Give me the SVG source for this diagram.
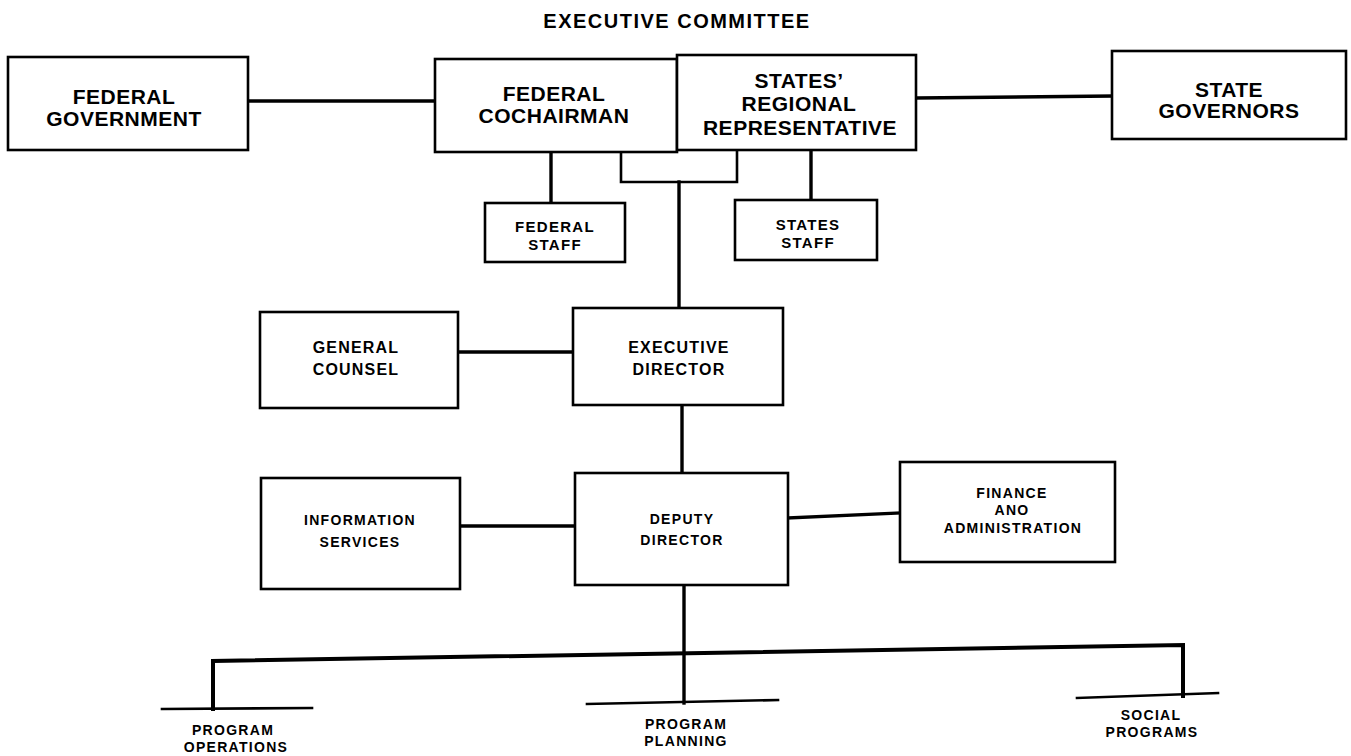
<svg xmlns="http://www.w3.org/2000/svg" width="1351" height="756" viewBox="0 0 1351 756">
<style>
.box{fill:#fff;stroke:#000;stroke-width:2.6}
.ln{fill:none;stroke:#000;stroke-width:3.4;stroke-linecap:square}
.t{font-family:"Liberation Sans",Arial,sans-serif;font-weight:bold;fill:#000;text-anchor:middle}
.L{font-size:21px;letter-spacing:0.5px}
.M{font-size:16px;letter-spacing:1.2px}
.S{font-size:15px;letter-spacing:1.3px}
.X{font-size:14px;letter-spacing:1.3px}
</style>
<rect width="1351" height="756" fill="#fff"/>
<text class="t" x="677" y="28" style="font-size:20px;letter-spacing:1.5px">EXECUTIVE COMMITTEE</text>
<g id="connectors">
<line class="ln" x1="248" y1="101" x2="435" y2="101"/>
<line class="ln" x1="916" y1="98" x2="1112" y2="96"/>
<path class="ln" style="stroke-width:2.6" d="M621 152 V182 H737 V150"/>
<line class="ln" x1="679" y1="182" x2="679" y2="308"/>
<line class="ln" x1="551" y1="152" x2="551" y2="203"/>
<line class="ln" x1="811" y1="150" x2="811" y2="200"/>
<line class="ln" x1="458" y1="352" x2="573" y2="352"/>
<line class="ln" x1="682" y1="405" x2="682" y2="473"/>
<line class="ln" x1="460" y1="526" x2="575" y2="526"/>
<line class="ln" x1="788" y1="518" x2="900" y2="513"/>
<line class="ln" x1="684" y1="585" x2="684" y2="703"/>
<path class="ln" style="stroke-width:4" d="M213 709 V661 L1183 645 V696"/>
<line class="ln" style="stroke-width:2.6" x1="162" y1="709" x2="312" y2="708"/>
<line class="ln" style="stroke-width:2.6" x1="587" y1="704" x2="778" y2="700"/>
<line class="ln" style="stroke-width:2.6" x1="1077" y1="698" x2="1218" y2="693"/>
</g>
<g id="federal-government">
<rect class="box" x="8" y="57" width="240" height="93"/>
<text class="t L" x="124" y="104">FEDERAL</text>
<text class="t L" x="124" y="126">GOVERNMENT</text>
</g>
<g id="federal-cochairman">
<rect class="box" x="435" y="59" width="242" height="93"/>
<text class="t L" x="554" y="101">FEDERAL</text>
<text class="t L" x="554" y="123">COCHAIRMAN</text>
</g>
<g id="states-regional-representative">
<rect class="box" x="677" y="55" width="239" height="95"/>
<text class="t L" x="799" y="88">STATES’</text>
<text class="t L" x="799" y="111">REGIONAL</text>
<text class="t L" x="800" y="135">REPRESENTATIVE</text>
</g>
<g id="state-governors">
<rect class="box" x="1112" y="51" width="234" height="88"/>
<text class="t L" x="1229" y="97">STATE</text>
<text class="t L" x="1229" y="118">GOVERNORS</text>
</g>
<g id="federal-staff">
<rect class="box" x="485" y="203" width="140" height="59"/>
<text class="t S" x="555" y="232">FEDERAL</text>
<text class="t S" x="555" y="250">STAFF</text>
</g>
<g id="states-staff">
<rect class="box" x="735" y="200" width="142" height="60"/>
<text class="t S" x="808" y="230">STATES</text>
<text class="t S" x="808" y="248">STAFF</text>
</g>
<g id="general-counsel">
<rect class="box" x="260" y="312" width="198" height="96"/>
<text class="t M" x="356" y="353">GENERAL</text>
<text class="t M" x="356" y="375">COUNSEL</text>
</g>
<g id="executive-director">
<rect class="box" x="573" y="308" width="210" height="97"/>
<text class="t M" x="679" y="353">EXECUTIVE</text>
<text class="t M" x="679" y="375">DIRECTOR</text>
</g>
<g id="information-services">
<rect class="box" x="261" y="478" width="199" height="111"/>
<text class="t X" x="360" y="525">INFORMATION</text>
<text class="t X" x="360" y="547">SERVICES</text>
</g>
<g id="deputy-director">
<rect class="box" x="575" y="473" width="213" height="112"/>
<text class="t X" x="682" y="524">DEPUTY</text>
<text class="t X" x="682" y="545">DIRECTOR</text>
</g>
<g id="finance-administration">
<rect class="box" x="900" y="462" width="215" height="100"/>
<text class="t X" x="1012" y="498">FINANCE</text>
<text class="t X" x="1012" y="515">ANO</text>
<text class="t X" x="1013" y="533">ADMINISTRATION</text>
</g>
<g id="program-operations">
<text class="t X" x="233" y="735">PROGRAM</text>
<text class="t X" x="236" y="752">OPERATIONS</text>
</g>
<g id="program-planning">
<text class="t X" x="686" y="729">PROGRAM</text>
<text class="t X" x="686" y="746">PLANNING</text>
</g>
<g id="social-programs">
<text class="t X" x="1151" y="720">SOCIAL</text>
<text class="t X" x="1152" y="737">PROGRAMS</text>
</g>
</svg>
